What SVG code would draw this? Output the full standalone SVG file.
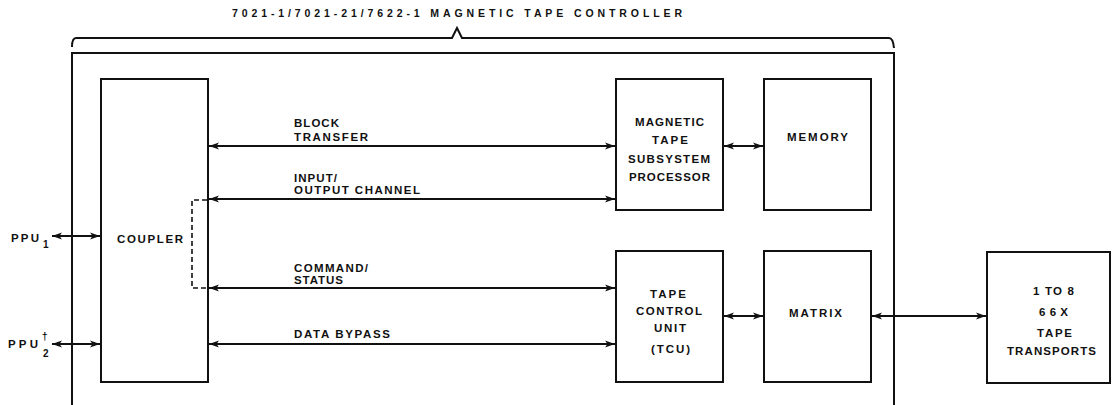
<svg xmlns="http://www.w3.org/2000/svg" width="1117" height="405" viewBox="0 0 1117 405">
<style>
text{font-family:"Liberation Sans",Arial,sans-serif;font-weight:bold;font-size:11.5px;fill:#111}
.t{font-size:10.5px}
.box{fill:none;stroke:#111;stroke-width:2}
.ln{fill:none;stroke:#111;stroke-width:2}
.dash{fill:none;stroke:#111;stroke-width:1.6;stroke-dasharray:5 3}
.sub{font-size:10px}
</style>
<defs>
<marker id="ah" markerUnits="userSpaceOnUse" markerWidth="11" markerHeight="8" refX="10" refY="4" orient="auto-start-reverse">
<path d="M0,0.5 L10,4 L0,7.5 L2.5,4 z" fill="#111"/>
</marker>
</defs>
<g id="controller">
<text class="t" x="232" y="17" textLength="450" lengthAdjust="spacing">7021-1/7021-21/7622-1 MAGNETIC TAPE CONTROLLER</text>
<path class="ln" d="M72,47 Q72,38 76,38 H452 L457,28 L462,38 H889 Q893,38 894,48"/>
<path class="box" d="M72,405 V53 H894 V405"/>
</g>
<g id="coupler">
<rect class="box" x="101" y="79" width="107" height="303"/>
<text x="117" y="243" textLength="66" lengthAdjust="spacing">COUPLER</text>
</g>
<g id="mtsp">
<rect class="box" x="616" y="79" width="107" height="131"/>
<text x="635" y="126" textLength="69" lengthAdjust="spacing">MAGNETIC</text>
<text x="652" y="144" textLength="36" lengthAdjust="spacing">TAPE</text>
<text x="628" y="163" textLength="82" lengthAdjust="spacing">SUBSYSTEM</text>
<text x="629" y="181" textLength="81" lengthAdjust="spacing">PROCESSOR</text>
</g>
<g id="memory">
<rect class="box" x="764" y="79" width="107" height="131"/>
<text x="787" y="141" textLength="61" lengthAdjust="spacing">MEMORY</text>
</g>
<g id="tcu">
<rect class="box" x="616" y="251" width="107" height="131"/>
<text x="650" y="298" textLength="36" lengthAdjust="spacing">TAPE</text>
<text x="636" y="315" textLength="66" lengthAdjust="spacing">CONTROL</text>
<text x="654" y="332" textLength="32" lengthAdjust="spacing">UNIT</text>
<text x="651" y="353" textLength="39" lengthAdjust="spacing">(TCU)</text>
</g>
<g id="matrix">
<rect class="box" x="764" y="251" width="107" height="131"/>
<text x="789" y="317" textLength="53" lengthAdjust="spacing">MATRIX</text>
</g>
<g id="transports">
<rect class="box" x="987" y="252" width="123" height="131"/>
<text x="1033" y="295" textLength="41" lengthAdjust="spacing">1 TO 8</text>
<text x="1039" y="316" textLength="29" lengthAdjust="spacing">66X</text>
<text x="1037" y="337" textLength="35" lengthAdjust="spacing">TAPE</text>
<text x="1007" y="355" textLength="89" lengthAdjust="spacing">TRANSPORTS</text>
</g>
<g id="ppu1">
<text x="11" y="242" textLength="28" lengthAdjust="spacing">PPU</text>
<text class="sub" x="43" y="248">1</text>
</g>
<g id="ppu2">
<text x="8" y="348" textLength="30" lengthAdjust="spacing">PPU</text>
<text class="sub" x="42" y="340">†</text>
<text class="sub" x="43" y="357">2</text>
</g>
<g id="connectors">
<line class="ln" x1="52" y1="236" x2="100" y2="236" marker-start="url(#ah)" marker-end="url(#ah)"/>
<line class="ln" x1="52" y1="344" x2="100" y2="344" marker-start="url(#ah)" marker-end="url(#ah)"/>
<line class="ln" x1="209" y1="146" x2="615" y2="146" marker-start="url(#ah)" marker-end="url(#ah)"/>
<line class="ln" x1="209" y1="199" x2="615" y2="199" marker-start="url(#ah)" marker-end="url(#ah)"/>
<line class="ln" x1="209" y1="288" x2="615" y2="288" marker-start="url(#ah)" marker-end="url(#ah)"/>
<line class="ln" x1="209" y1="344" x2="615" y2="344" marker-start="url(#ah)" marker-end="url(#ah)"/>
<line class="ln" x1="724" y1="146" x2="763" y2="146" marker-start="url(#ah)" marker-end="url(#ah)"/>
<line class="ln" x1="724" y1="316" x2="763" y2="316" marker-start="url(#ah)" marker-end="url(#ah)"/>
<line class="ln" x1="872" y1="316" x2="986" y2="316" marker-start="url(#ah)" marker-end="url(#ah)"/>
<path class="dash" d="M207,200 H192 V288 H207"/>
<text x="294" y="127" textLength="45" lengthAdjust="spacing">BLOCK</text>
<text x="294" y="141" textLength="74" lengthAdjust="spacing">TRANSFER</text>
<text x="294" y="182" textLength="43" lengthAdjust="spacing">INPUT/</text>
<text x="294" y="194" textLength="126" lengthAdjust="spacing">OUTPUT CHANNEL</text>
<text x="294" y="272" textLength="74" lengthAdjust="spacing">COMMAND/</text>
<text x="294" y="284" textLength="49" lengthAdjust="spacing">STATUS</text>
<text x="294" y="338" textLength="96" lengthAdjust="spacing">DATA BYPASS</text>
</g>
</svg>
